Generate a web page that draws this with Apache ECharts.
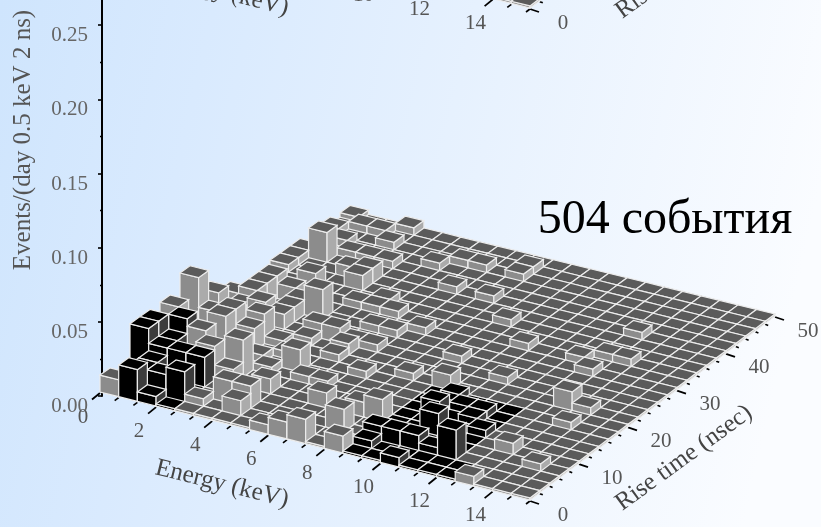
<!DOCTYPE html>
<html><head><meta charset="utf-8">
<style>html,body{margin:0;padding:0;overflow:hidden}#c{width:821px;height:527px}</style>
<script src="https://cdn.jsdelivr.net/npm/echarts@6/dist/echarts.min.js"></script>
</head><body><div id="c"></div>
<script>
// bins: 23 energy bins x 25 rise-time bins
const energyBins = 23, riseBins = 25;
const energyStep = 2 / 3, riseStep = 2;
const eventUnit = 0.005;
const rateTicks = [0, 0.05, 0.10, 0.15, 0.20, 0.25];
// [energy bin, rise bin, height in units]
const grayCells = [[0,24,0.6],[1,23,1],[2,23,1],[3,24,1],[3,22,1],[1,21,1],[2,20,1],[3,20,1],[4,20,1],[0,22,1],[3,18,1.5],[4,18,2],[4,17,2],[2,16,2],[1,19,4],[4,13,4],
[6,21,1],[7,22,1],[8,22,1],[10,22,1],[10,23,1],[8,19,1],[10,19,1],[12,17,1],[14,15,1],[7,15,1],[6,15,1],[5,15,1],[9,14,1],[8,13,1],[7,13,1],[6,11,2],[7,11,1],[7,10,1.5],[8,11,1],[6,16,1],[7,9,1],
[18,19,1],[18,16,1],[19,16,1],[17,15,1],[18,14,1],[19,10,2.5],[20,10,1],[20,8,1],[21,3,1],[19,0,1],[19,4,1.5],[15,11,1],[12,12,1],[13,9,2],[11,9,1],[9,8,1],[8,6,1],[9,4,2],[11,2,3],[11,4,2],[12,4,3],[12,0,2],[10,0,3],[9,0,2],[8,0,1],[6,1,2],[4,4,2],[5,2,3],[6,2,3],[6,4,2],[4,1,1],[7,6,1],[5,6,1],[4,7,1],[5,8,1],[5,10,1],[4,9,1],[6,7,3],[5,11,2],[3,13,2],[3,12,2],[3,11,2],[2,14,2],[0,18,1],[0,19,1],[0,17,1],[4,5,5],[3,8,3],[3,9,4],[2,11,3],[1,11,2],[1,12,3],[1,13,3],[1,14,3],[2,7,5],[2,8,5],[1,8,4],[0,10,4],[0,12,2],[0,8,8],[0,6,6],[2,5,5],[3,4,4.5],[0,0,2]];
const blackCells = [[1,0,4],[2,0,1],[2,1,3],[3,1,4],[2,2,1],[1,1,3],[1,2,3],[0,3,6],[0,4,6],[1,5,6],[1,3,4],[2,3,4],[3,3,4],[1,4,4],
[13,2,2],[14,2,2],[15,2,2],[15,0,1],[17,2,4],[15,4,3],[14,6,2],[13,1,1],[16,2,1],[16,6,1],[16,7,1],[15,7,1],[14,8,1],[17,5,1]];
// black bin ranges: [energy from, energy to, rise from, rise to]
const blackRanges = [[1,3,0,3],[0,2,3,4],[0,1,5,5],[13,18,0,1],[13,17,2,8]];

const W = 821, H = 527, energyMax = energyBins * energyStep, riseMax = riseBins * riseStep;
const chart = echarts.init(document.getElementById('c'), null, {renderer:'canvas'});
// floor corners of the oblique view
const cL=[100,392], cF=[530,500], cR=[775,316], cB=[350,212];
const stripShift = -492;
const font = 'Liberation Serif, serif';

const hMap = {};
grayCells.concat(blackCells).forEach(c => { hMap[c[0]+'_'+c[1]] = c[2]; });
const isBlack = (i,j) => blackRanges.some(r => i>=r[0]&&i<=r[1]&&j>=r[2]&&j<=r[3]);
const cellData = [];
for (let j=riseBins-1;j>=0;j--) for (let i=0;i<energyBins;i++) {
  cellData.push([i*energyStep, j*riseStep, (hMap[i+'_'+j]||0)*eventUnit, isBlack(i,j)?1:0]);
}
const energyTickData=[]; for(let i=0;i<=energyBins;i++){const v=i*energyStep;energyTickData.push([v,0,i%3===0?1:0, i%3===0?v:-1]);}
const riseTickData=[]; for(let j=0;j<=riseBins;j++){const v=j*riseStep;riseTickData.push([energyMax,v,j%5===0?1:0,j%5===0?v:-1]);}

function project(api,e,r){
  const p=api.coord([e,r]); const u=p[0]/W, v=1-p[1]/H;
  const ax=cL[0]+(cF[0]-cL[0])*u, ay=cL[1]+(cF[1]-cL[1])*u;
  const bx=cB[0]+(cR[0]-cB[0])*u, by=cB[1]+(cR[1]-cB[1])*u;
  return [ax+(bx-ax)*v, ay+(by-ay)*v];
}
function zPixels(z){ return chart.convertToPixel({yAxisIndex:0},0)-chart.convertToPixel({yAxisIndex:0},z); }
const baseRate = 0.0014;

function cellRenderer(dy){
  return function(params,api){
    const e0=api.value(0), r0=api.value(1), z=api.value(2)+baseRate, black=api.value(3);
    const e1=e0+energyStep, r1=r0+riseStep, h=zPixels(z);
    const a=project(api,e0,r0), b=project(api,e1,r0), c=project(api,e1,r1), d=project(api,e0,r1);
    if (Math.max(a[1],b[1],c[1],d[1])+dy < -2 && dy!==0) return null;
    if (Math.min(a[1],b[1],c[1],d[1])+dy-h > H+2) return null;
    const up=p=>[p[0],p[1]-h+dy], dn=p=>[p[0],p[1]+dy];
    const edge = '#ececec', lw=1.2;
    const topC = black?'#000000':'#5b5b5b', leftC=black?'#000000':'#8c8c8c', rightC=black?'#3c3c3c':'#ababab';
    const poly=(pts,fill)=>({type:'polygon',shape:{points:pts},style:{fill:fill,stroke:edge,lineWidth:lw}});
    return {type:'group',children:[
      poly([up(a),up(b),dn(b),dn(a)],leftC),
      poly([up(b),up(c),dn(c),dn(b)],rightC),
      poly([up(a),up(b),up(c),up(d)],topC)
    ]};
  };
}
function tickRenderer(kind,dy){
  return function(params,api){
    const major=api.value(2), label=api.value(3);
    const p=project(api,api.value(0),api.value(1));
    const dir = kind==='e' ? (major?[-8,6.5]:[-4,3]) : (major?[9,3]:[3,1.2]);
    const off = kind==='e' ? [-17,25] : [33,15];
    const children=[{type:'line',shape:{x1:p[0],y1:p[1]+1+dy,x2:p[0]+dir[0],y2:p[1]+1+dir[1]+dy},style:{stroke:'#000',lineWidth:major?1.8:1.6}}];
    if(label>=0) children.push({type:'text',style:{text:String(Math.round(label)),x:p[0]+off[0],y:p[1]+off[1]+dy,textAlign:'center',textVerticalAlign:'middle',fill:'#555',font:'21px '+font}});
    return {type:'group',children};
  };
}
function cellSeries(dy){return {type:'custom',coordinateSystem:'cartesian2d',xAxisIndex:0,yAxisIndex:1,silent:true,animation:false,data:cellData,renderItem:cellRenderer(dy),progressive:0,clip:false};}
function tickSeries(kind,dy,data){return {type:'custom',coordinateSystem:'cartesian2d',xAxisIndex:0,yAxisIndex:1,silent:true,animation:false,data:data,renderItem:tickRenderer(kind,dy),clip:false};}
const title=(text,x,y,rot,size,fill)=>({type:'text',x:x,y:y,rotation:rot*Math.PI/180,silent:true,style:{text:text,textAlign:'center',textVerticalAlign:'middle',font:size+'px '+font,fill:fill}});

chart.setOption({
  animation:false,
  backgroundColor:{type:'linear',x:0,y:0,x2:1,y2:0.35,colorStops:[{offset:0,color:'#cfe5fd'},{offset:0.25,color:'#d9eafe'},{offset:0.6,color:'#e8f2fe'},{offset:1,color:'#fafcff'}]},
  grid:[{left:102,width:300,top:-49,height:445,containLabel:false,outerBoundsMode:'none'},{left:0,top:0,width:W,height:H,outerBoundsMode:'none'}],
  xAxis:[{type:'value',gridIndex:1,min:0,max:energyMax,show:false},{type:'value',gridIndex:0,min:0,max:1,show:false}],
  yAxis:[{type:'value',gridIndex:0,min:0,max:0.30,interval:0.05,position:'left',
      axisLine:{show:true,lineStyle:{color:'#000',width:2}},
      axisTick:{show:true,length:4,inside:false,lineStyle:{color:'#000',width:1.6}},
      minorTick:{show:true,splitNumber:2,length:2,lineStyle:{color:'#000',width:1.4}},
      splitLine:{show:false},minorSplitLine:{show:false},
      axisLabel:{margin:14,color:'#666',fontFamily:font,fontSize:21,verticalAlign:'top',
        formatter:v=>rateTicks.some(t=>Math.abs(t-v)<1e-6)?v.toFixed(2):''}},
    {type:'value',gridIndex:1,min:0,max:riseMax,show:false}],
  graphic:{elements:[
    title('Events/(day 0.5 keV 2 ns)',23,140,90,25,'#555'),
    title('504 события',665,220,0,48,'#000'),
    title('Energy (keV)',222,484,-14,25,'#444'),
    title('Energy (keV)',222,484+stripShift,-14,25,'#444'),
    title('Rise time (nsec)',684,458,36,25,'#444'),
    title('Rise time (nsec)',684,458+stripShift,36,25,'#444')
  ]},
  series:[
    tickSeries('e',0,energyTickData),tickSeries('r',0,riseTickData),
    tickSeries('e',stripShift,energyTickData),tickSeries('r',stripShift,riseTickData),
    cellSeries(0),cellSeries(stripShift)
  ]
});
</script></body></html>
